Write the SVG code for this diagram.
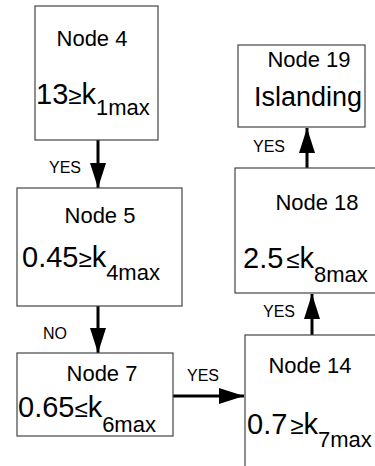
<svg xmlns="http://www.w3.org/2000/svg" width="375" height="466" viewBox="0 0 375 466">
<defs>
<marker id="ah" markerUnits="userSpaceOnUse" markerWidth="25" markerHeight="16" refX="25" refY="8" orient="auto">
<path d="M0,0 L25,8 L0,16 z" fill="#000"/>
</marker>
<style>
.box{fill:#fff;stroke:#444;stroke-width:1.2}
.t{font-family:"Liberation Sans",Arial,sans-serif;font-size:22px;fill:#000}
.c{text-anchor:middle}
.f{font-family:"Liberation Sans",Arial,sans-serif;font-size:29px;fill:#000}
.g{font-size:24px}
.s{font-size:22px}
.l{font-family:"Liberation Sans",Arial,sans-serif;font-size:16px;fill:#000}
.e{stroke:#000;stroke-width:3;fill:none;marker-end:url(#ah)}
</style>
</defs>
<rect width="375" height="466" fill="#fff"/>
<g id="connectors">
<line class="e" x1="98" y1="140" x2="98" y2="188"/>
<line class="e" x1="98" y1="306" x2="98" y2="353"/>
<line class="e" x1="173" y1="396" x2="244" y2="396"/>
<line class="e" x1="312" y1="335" x2="312" y2="294"/>
<line class="e" x1="307" y1="168" x2="307" y2="128"/>
<text class="l" x="49" y="173">YES</text>
<text class="l" x="43" y="339">NO</text>
<text class="l" x="187" y="381">YES</text>
<text class="l" x="263" y="317">YES</text>
<text class="l" x="253" y="152">YES</text>
</g>
<g id="node4">
<rect class="box" x="35" y="6" width="123" height="134"/>
<text class="t c" x="92" y="46">Node 4</text>
<text class="f" x="36" y="104">13<tspan class="g">≥</tspan>k<tspan class="s" dy="11">1max</tspan></text>
</g>
<g id="node5">
<rect class="box" x="17" y="188" width="165" height="118"/>
<text class="t c" x="100" y="223">Node 5</text>
<text class="f" x="22" y="267">0.45<tspan class="g">≥</tspan>k<tspan class="s" dy="13">4max</tspan></text>
</g>
<g id="node7">
<rect class="box" x="17" y="353" width="156" height="83"/>
<text class="t c" x="102" y="381">Node 7</text>
<text class="f" x="18" y="417">0.65<tspan class="g">≤</tspan>k<tspan class="s" dy="15">6max</tspan></text>
</g>
<g id="node14">
<rect class="box" x="245" y="335" width="150" height="150"/>
<text class="t c" x="310" y="373">Node 14</text>
<text class="f" x="247" y="434">0.7<tspan class="g" dx="3">≥</tspan>k<tspan class="s" dy="13">7max</tspan></text>
</g>
<g id="node18">
<rect class="box" x="235" y="168" width="150" height="125"/>
<text class="t c" x="317" y="210">Node 18</text>
<text class="f" x="243" y="268">2.5<tspan class="g" dx="3">≤</tspan>k<tspan class="s" dy="14">8max</tspan></text>
</g>
<g id="node19">
<rect class="box" x="238" y="45" width="127" height="82"/>
<text class="t c" x="309" y="67">Node 19</text>
<text class="t c" x="308" y="106" style="font-size:27px">Islanding</text>
</g>
</svg>
